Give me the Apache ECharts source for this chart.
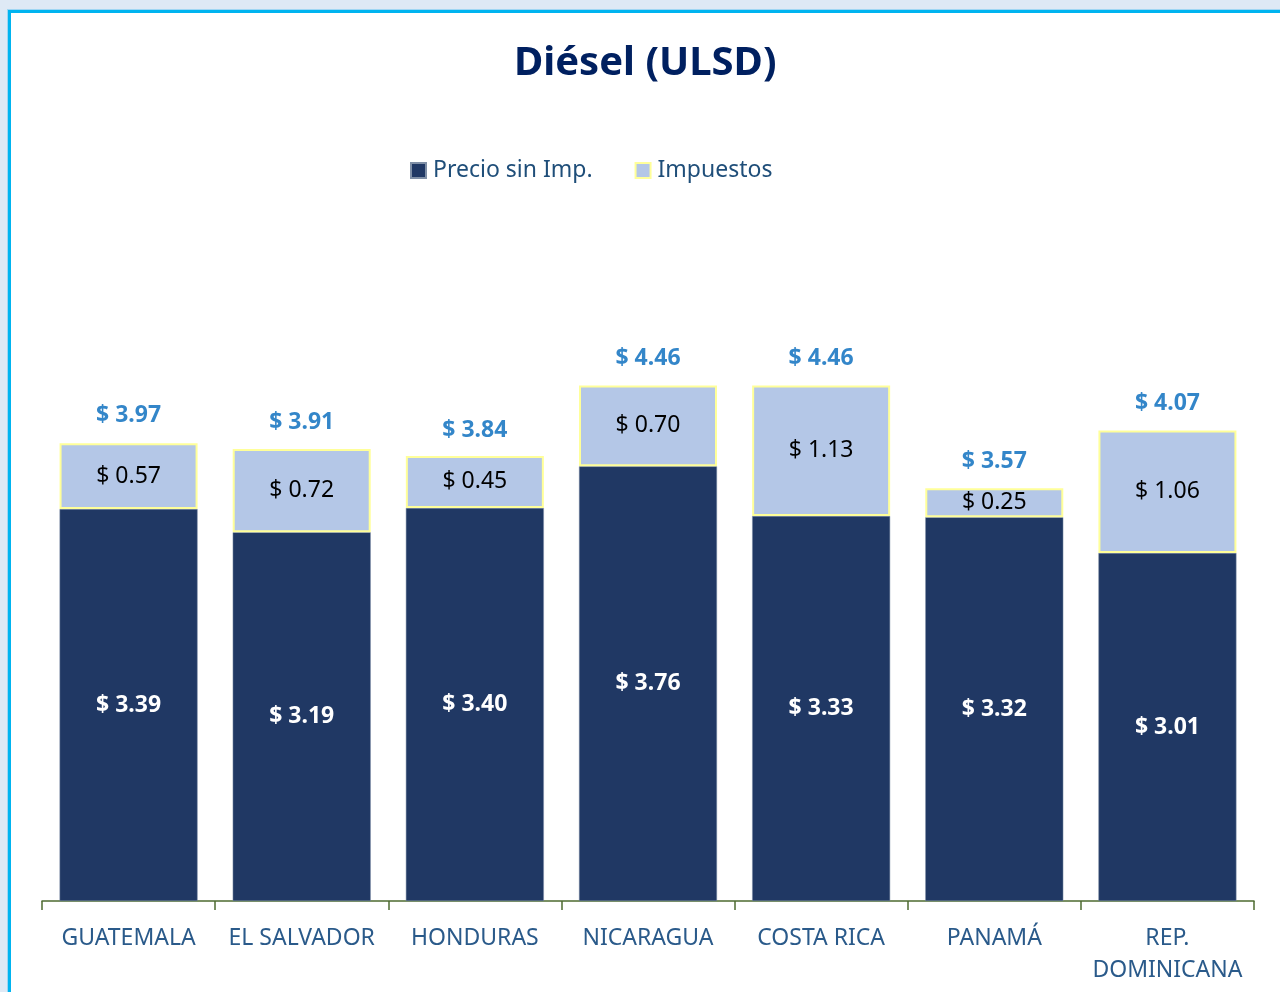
<!DOCTYPE html>
<html>
<head>
<meta charset="utf-8">
<script src="https://cdn.jsdelivr.net/npm/echarts@6/dist/echarts.min.js"></script>
<style>
html,body{margin:0;padding:0;width:1280px;height:992px;overflow:hidden;background:#dee9f5;}
#frame{position:absolute;left:8px;top:10px;width:1300px;height:1000px;background:#fff;border-left:3px solid #00b4f0;border-top:3px solid #00b4f0;box-shadow:-1px -1px 0 #9fd6f3;}
#chart{position:absolute;left:0;top:0;width:1280px;height:992px;}
</style>
</head>
<body>
<div id="frame"></div>
<div id="chart"></div>
<script>
const categories = ['GUATEMALA','EL SALVADOR','HONDURAS','NICARAGUA','COSTA RICA','PANAMÁ','REP.\nDOMINICANA'];
const precioSinImp = [3.39, 3.19, 3.40, 3.76, 3.33, 3.32, 3.01];
const impuestos = [0.57, 0.72, 0.45, 0.70, 1.13, 0.25, 1.06];
const totales = [3.97, 3.91, 3.84, 4.46, 4.46, 3.57, 4.07];

const FONT = '"Noto Sans", "Open Sans", sans-serif';
const fmt = v => '$ ' + Number(v).toFixed(2);

const chart = echarts.init(document.getElementById('chart'), null, {renderer:'canvas'});
chart.setOption({
  backgroundColor: 'transparent',
  animation: false,
  title: {
    text: 'Diésel (ULSD)',
    left: 514, top: 44, itemGap: 0, padding: 0,
    textStyle: {fontFamily: FONT, fontSize: 40, fontWeight: 'bold', color: '#002060'}
  },
  legend: {
    top: 154, left: 405,
    itemWidth: 15, itemHeight: 15, itemGap: 42,
    textStyle: {fontFamily: FONT, fontSize: 23, color: '#1f4e79', padding: [0,0,0,2]},
    data: [
      {name: 'Precio sin Imp.', icon: 'rect'},
      {name: 'Impuestos', icon: 'rect'}
    ]
  },
  grid: {left: 42, right: 26, top: 207.4, bottom: 91, containLabel: false},
  xAxis: {
    type: 'category',
    data: categories,
    boundaryGap: true,
    axisLine: {lineStyle: {color: '#4e6b30', width: 1.5}},
    axisTick: {show: true, length: 9, lineStyle: {color: '#4e6b30', width: 1.5}},
    axisLabel: {fontFamily: FONT, fontSize: 23, color: '#2a5a8a', margin: 21, lineHeight: 32, interval: 0}
  },
  yAxis: {type: 'value', min: 0, max: 6, show: false, splitLine: {show: false}},
  series: [
    {
      name: 'Precio sin Imp.', type: 'bar', stack: 'total', barWidth: 138,
      data: precioSinImp,
      itemStyle: {color: '#203864', borderColor: '#7f8fa6', borderWidth: 0.5},
      label: {show: true, position: 'inside', formatter: p => fmt(p.value),
        fontFamily: FONT, fontSize: 23, fontWeight: 'bold', color: '#ffffff'}
    },
    {
      name: 'Impuestos', type: 'bar', stack: 'total', barWidth: 138,
      data: impuestos,
      itemStyle: {color: '#b4c7e7', borderColor: '#ffff99', borderWidth: 2},
      label: {show: true, position: 'inside', formatter: p => fmt(p.value),
        fontFamily: FONT, fontSize: 23, color: '#000000'}
    },
    {
      name: 'Total', type: 'scatter', data: totales,
      symbolSize: 1, itemStyle: {color: 'rgba(0,0,0,0)'},
      label: {show: true, position: 'top', distance: 15, formatter: p => fmt(p.value),
        fontFamily: FONT, fontSize: 23, fontWeight: 'bold', color: '#0068bc'},
      z: 5
    }
  ]
});
</script>
</body>
</html>
